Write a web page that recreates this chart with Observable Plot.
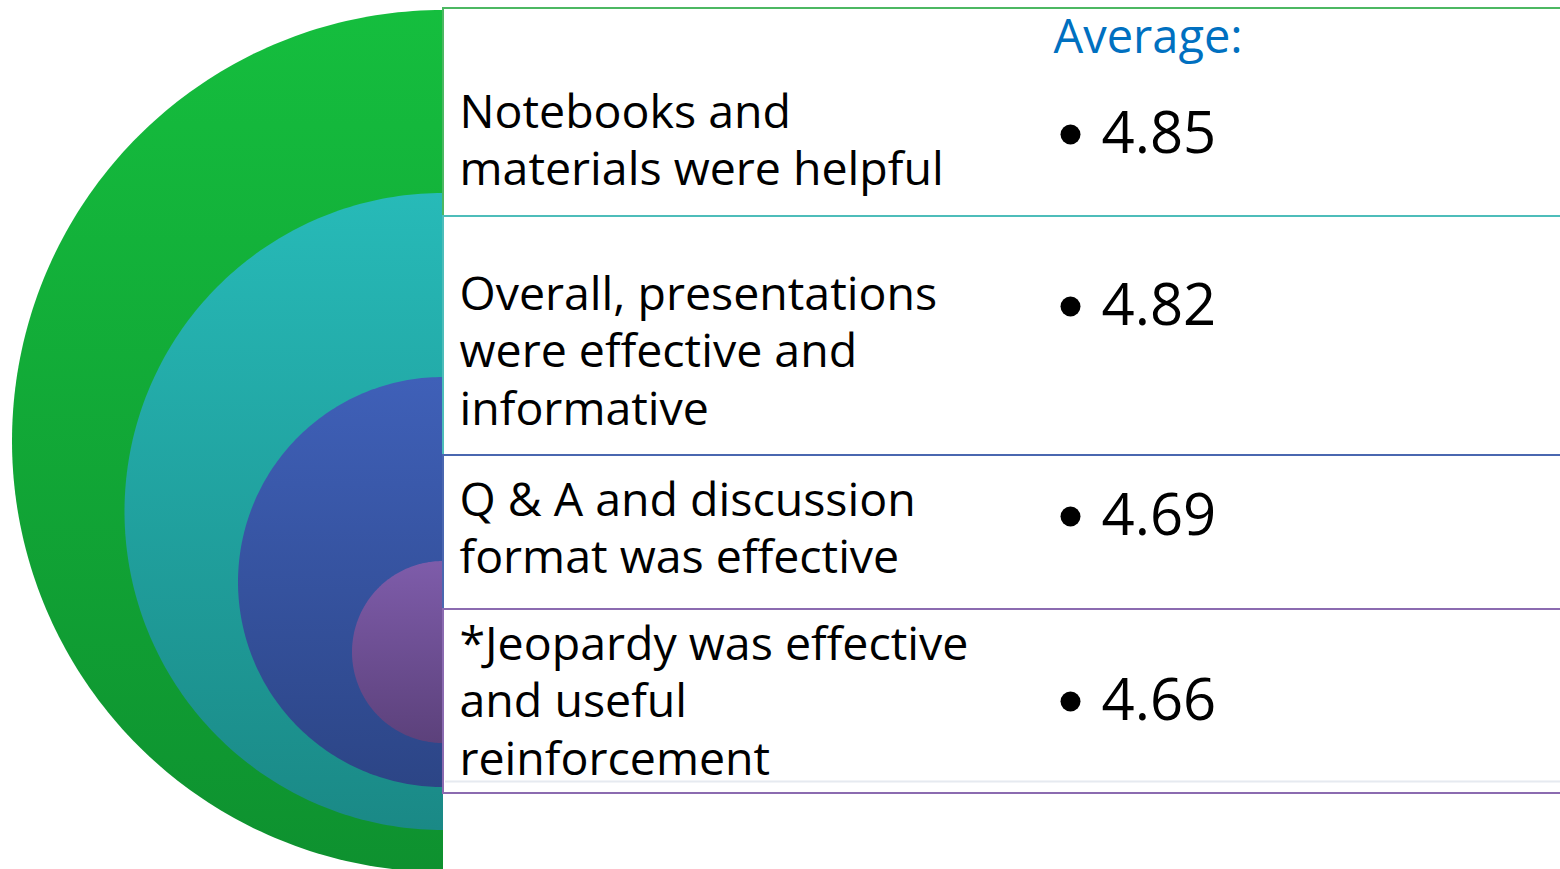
<!DOCTYPE html>
<html>
<head>
<meta charset="utf-8">
<script src="https://cdn.jsdelivr.net/npm/d3@7"></script>
<script src="https://cdn.jsdelivr.net/npm/@observablehq/plot@0.6"></script>
<style>
  html, body { margin: 0; padding: 0; background: #fff; }
  #chart svg { display: block; }
</style>
</head>
<body>
<div id="chart"></div>
<script>
// ---- data ----
const labels = [
  "Notebooks and\nmaterials were helpful",
  "Overall, presentations\nwere effective and\ninformative",
  "Q & A and discussion\nformat was effective",
  "*Jeopardy was effective\nand useful\nreinforcement"
];
const averages = [4.85, 4.82, 4.69, 4.66];
const header = "Average:";

// ---- styling / layout ----
const W = 1560, H = 869;
const spineX = 443;
const rowEdges = [8, 216, 455, 609, 793];
const labelFont = 46.5, labelLH = 58 / 46.5;
const rowBaseline = [127, 309, 515, 659];  // baseline of first label line
const rowValue = [134, 306, 516, 701];     // vertical middle of value
const rowStroke = ["#4cb862", "#4dbdba", "#4a67b0", "#8b6bb0"];
const rings = [
  {cy: 441, r: 431, top: "#15be3e", bottom: "#0e912f"},
  {cy: 511.5, r: 318.5, top: "#27bab8", bottom: "#1a8986"},
  {cy: 582, r: 205, top: "#3f60b8", bottom: "#2c4586"},
  {cy: 652, r: 91, top: "#7e5caa", bottom: "#5c417b"}
];

const rows = labels.map((label, i) => ({
  label, avg: averages[i],
  top: rowEdges[i], bottom: rowEdges[i + 1],
  textY: rowBaseline[i] - 0.71 * labelLH * labelFont,
  valueY: rowValue[i], stroke: rowStroke[i]
}));

// half-disc outlines (left half) as geometry
function halfDisc(ring) {
  return d3.range(0, 181).map(a => {
    const t = a * Math.PI / 180;
    return {x: spineX - ring.r * Math.sin(t), y: ring.cy - ring.r * Math.cos(t)};
  });
}

const defs = () => {
  const d = d3.create("svg:defs");
  rings.forEach((ring, i) => {
    const g = d.append("linearGradient").attr("id", "ring" + i)
      .attr("x1", 0).attr("y1", 0).attr("x2", 0).attr("y2", 1);
    g.append("stop").attr("offset", "0%").attr("stop-color", ring.top);
    g.append("stop").attr("offset", "100%").attr("stop-color", ring.bottom);
  });
  return d.node();
};

const chart = Plot.plot({
  width: W, height: H, margin: 0,
  x: {domain: [0, W], range: [0, W], axis: null},
  y: {domain: [0, H], range: [0, H], axis: null},
  color: {type: "identity"},
  style: {background: "white", fontFamily: "'Open Sans', Lato, sans-serif", color: "black"},
  marks: [
    defs,
    ...rings.map((ring, i) => Plot.areaX(halfDisc(ring), {
      x1: "x", x2: () => spineX, y: "y", fill: `url(#ring${i})`, curve: "linear"
    })),
    Plot.rect(rows, {
      x1: () => spineX, x2: () => W + 10, y1: "top", y2: "bottom",
      fill: "white", stroke: "stroke", strokeWidth: 2
    }),
    Plot.ruleY([rowEdges[4] - 12], {x1: spineX + 2, x2: W, stroke: "#e6eaf0", strokeWidth: 2}),
    Plot.text(rows, {
      x: () => 459, y: "textY", text: "label", textAnchor: "start", lineAnchor: "top",
      fontSize: labelFont, lineHeight: labelLH, fill: "black"
    }),
    Plot.dot(rows, {x: () => 1070, y: "valueY", r: 10, fill: "black"}),
    Plot.text(rows, {
      x: () => 1101, y: "valueY", text: d => d.avg.toFixed(2), textAnchor: "start",
      lineAnchor: "middle", fontSize: 58, fill: "black"
    }),
    Plot.text([header], {
      x: () => 1053, y: () => 19, text: d => d, textAnchor: "start", lineAnchor: "top",
      fontSize: 47, fill: "#0070c0"
    })
  ]
});
document.getElementById("chart").appendChild(chart);
</script>
</body>
</html>
